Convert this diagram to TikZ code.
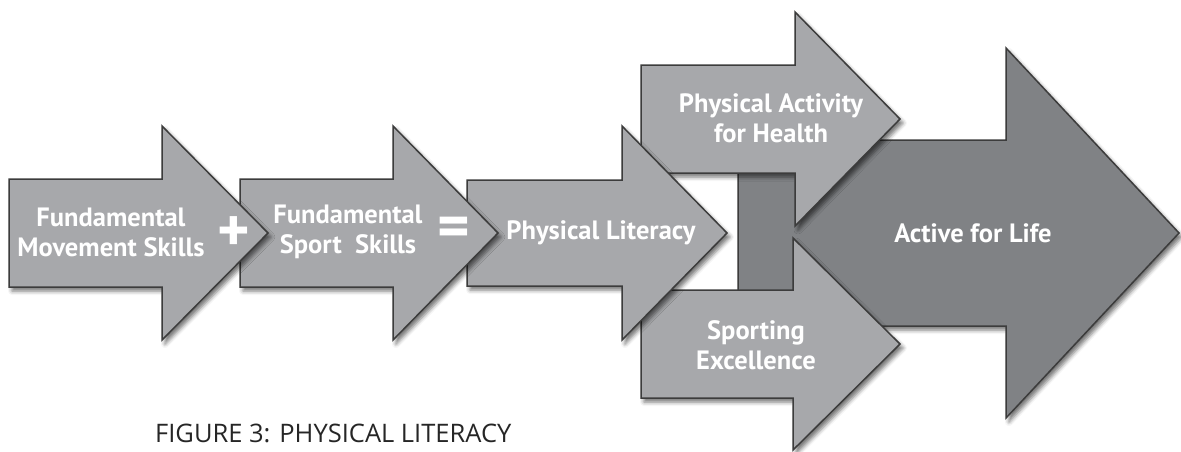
\documentclass[tikz,border=0pt]{standalone}
\usepackage{fontspec}
\setmainfont{PT Sans}
\newfontfamily\capfont{Open Sans}
\usetikzlibrary{positioning,shadows.blur}
\definecolor{arrowlight}{HTML}{A7A8AB}
\definecolor{arrowdark}{HTML}{808285}
\definecolor{arrowline}{HTML}{3C3C3C}
% arrow outline: style, x0, x1 (head base), x2 (tip), y centre, half body, half head
\newcommand{\bigarrow}[7]{%
\draw[#1] (#2,#5-#6) -- (#3,#5-#6) -- (#3,#5-#7) -- (#4,#5) -- (#3,#5+#7) -- (#3,#5+#6) -- (#2,#5+#6) -- cycle;}

\begin{document}
\begin{tikzpicture}[x=1pt,y=-1pt,
arrowbox/.style ={fill=arrowlight, draw=arrowline, line width=1.5pt, line join=miter,
 blur shadow={shadow xshift=3pt, shadow yshift=-4pt, shadow blur radius=4pt, shadow opacity=55}},
darkbox/.style ={arrowbox, fill=arrowdark},
arrowtext/.style ={text=white, font=\bfseries\fontsize{26.5}{30}\selectfont, align=center, inner sep=0pt},
sign/.style ={text=white, font=\bfseries\fontsize{62}{62}\selectfont, inner sep=0pt}]
\useasboundingbox (0,0) rectangle (1181,451);

% back to front
\bigarrow{darkbox}{738}{1006}{1179}{233}{93}{185}
\node[arrowtext] (afl) at (973,233) {Active for Life};
\bigarrow{arrowbox}{641}{793}{900}{344}{54}{106}
\node[arrowtext] (se) at (756,345) {Sporting\\Excellence};
\bigarrow{arrowbox}{641}{795}{900}{119}{54}{107}
\node[arrowtext] (pah) at (771,118) {Physical Activity\\for Health};
\bigarrow{arrowbox}{467}{622}{727}{233}{53}{107}
\node[arrowtext] (pl) at (601,233) {Physical Literacy};
\bigarrow{arrowbox}{240}{393}{498}{233}{54}{107}
\node[arrowtext] (fss) at (348,232) {Fundamental\\Sport\ \ Skills};
\node[sign] (eq) at (454,232) {=};
\bigarrow{arrowbox}{9}{162}{268}{233}{54}{107}
\node[arrowtext] (fms) at (111,232) {Fundamental\\Movement Skills};
\node[sign] (plus) at (234,234) {+};

\node[font=\capfont\fontsize{25.5}{25.5}\selectfont, text=black!85, anchor=base west, inner sep=0pt]
 (cap) at (155,442) {FIGURE 3: PHYSICAL LITERACY};
\end{tikzpicture}
\end{document}
